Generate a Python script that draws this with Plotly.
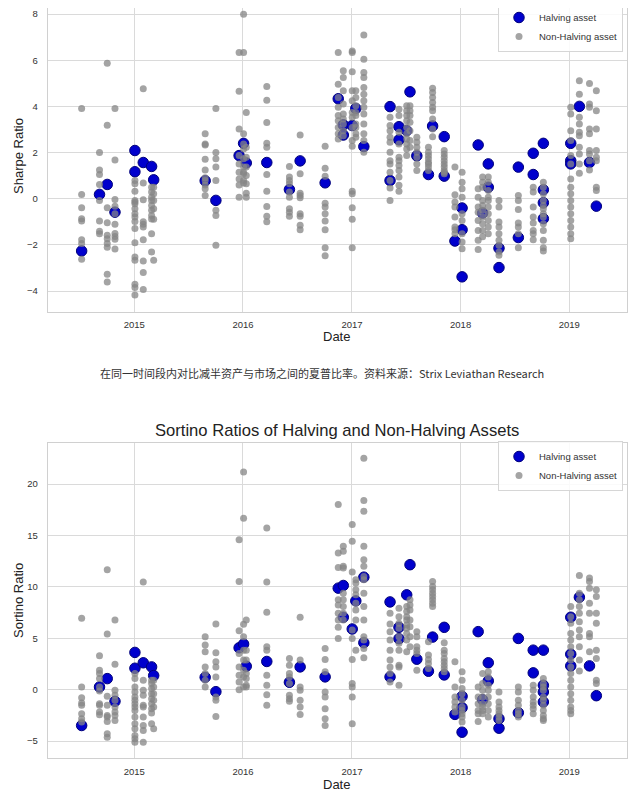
import plotly.graph_objects as go

# ---------------- data ----------------
col_dates = [
    "2014-07-08", "2014-09-06", "2014-10-02", "2014-10-28", "2015-01-03", "2015-01-31",
    "2015-02-28", "2015-03-07", "2015-08-27", "2015-10-02", "2015-12-19", "2016-01-03",
    "2016-01-12", "2016-03-21", "2016-06-05", "2016-07-11", "2016-10-03", "2016-11-16",
    "2016-12-03", "2017-01-02", "2017-01-14", "2017-02-10", "2017-05-09", "2017-06-08",
    "2017-07-04", "2017-07-15", "2017-08-07", "2017-09-15", "2017-09-29", "2017-11-07",
    "2017-12-13", "2018-01-06", "2018-03-01", "2018-03-16", "2018-04-04", "2018-05-10",
    "2018-07-14", "2018-09-02", "2018-10-06", "2019-01-06", "2019-02-04", "2019-03-10",
    "2019-04-02",
]

sharpe_halving = [
    [-2.26], [0.19], [0.62], [-0.58], [2.09, 1.17], [1.57], [1.40], [0.82], [0.78], [-0.07],
    [1.87], [2.40], [1.55], [1.57], [0.40], [1.64], [0.69], [4.33], [3.20, 2.76], [3.17],
    [3.91], [2.26], [3.99, 0.79], [3.12, 2.55], [2.95], [4.63], [1.86], [1.05], [3.15],
    [2.69, 0.98], [-1.83], [-0.40, -1.34, -3.38], [2.33], [-0.62], [1.51, 0.50],
    [-2.14, -2.98], [1.37, -1.68], [1.97, 1.05], [2.40, 0.39, -0.17, -0.86],
    [2.40, 1.65, 1.51], [4.00], [1.57], [-0.32],
]

sharpe_other = [
    [3.91, 0.19, -0.39, -0.86, -0.96, -1.77, -1.94, -2.62],
    [2.0, 1.25, 1.05, 0.62, -0.07, -0.96, -1.41, -1.51],
    [5.87, 3.18, -0.39, -1.04, -1.58, -1.73, -1.94, -2.1, -3.27, -3.6],
    [3.91, 1.68, -0.03, -0.32, -0.65, -1.1, -1.5, -1.63, -1.75, -2.17],
    [0.79, 0.65, 0.33, -0.07, -0.14, -0.22, -0.43, -0.65, -0.79, -0.98, -1.29, -1.9, -2.52, -2.66, -3.7, -3.84, -4.17],
    [4.76, 0.68, -0.04, -1.0, -1.1, -1.22, -1.77, -2.69, -3.19, -3.93],
    [0.5, 0.29, 0.07, -0.07, -0.29, -0.5, -0.72, -0.88, -1.51, -2.3],
    [0.5, 0.22, -0.07, -0.43, -0.89, -2.66],
    [2.81, 2.37, 2.33, 1.71, 1.25, 0.91, 0.79, 0.6, 0.43, 0.14],
    [3.91, 2.0, 1.73, 1.37, 0.79, -0.5, -0.72, -2.01],
    [6.33, 4.65, 3.02, 1.87, 1.51, 1.15, 0.86, 0.6, 0.07],
    [7.99, 6.33, 2.81, 2.37, 2.16, 1.73, 1.37, 1.15, 1.08, 0.79, 0.68],
    [3.74, 2.23, 1.8, 1.37, 1.01, 0.65, 0.24, 0.07],
    [4.86, 4.27, 3.3, 2.4, 2.23, 1.05, 0.32, -0.33, -0.76, -1.0],
    [1.4, 0.94, 0.79, 0.65, 0.29, 0.07, -0.43, -0.58, -0.76],
    [2.76, 1.08, 0.24, 0.14, 0.04, -0.65, -0.76, -1.15, -1.34],
    [2.27, 1.32, 0.98, -0.19, -0.36, -0.65, -0.96, -1.34, -2.12, -2.47],
    [6.33, 4.96, 4.39, 3.96, 3.6, 3.38, 3.09, 2.81, 2.59],
    [5.54, 5.25, 4.68, 4.1, 3.67, 3.45, 3.24, 2.95, 2.73],
    [6.4, 6.33, 5.5, 4.68, 4.24, 3.74, 3.53, 3.09, 2.52, 2.27, 0.33, 0.22, -0.39, -0.89, -2.12],
    [4.68, 4.39, 4.03, 3.74, 3.6, 3.24, 3.09, 2.81, 2.66],
    [7.09, 6.04, 5.47, 5.25, 4.82, 4.53, 4.24, 3.96, 3.67, 3.24, 2.81, 2.52, 2.01],
    [3.53, 3.17, 2.95, 2.66, 2.45, 2.01, 1.65, 1.51, 1.15, 0.79, 0.47, -0.07],
    [3.88, 3.6, 2.88, 2.37, 1.8, 1.65, 1.44, 1.22, 0.94, 0.58, 0.33],
    [4.03, 3.81, 3.6, 3.38, 3.09, 2.81, 2.59, 2.37, 2.16, 1.87],
    [4.03, 3.81, 3.6, 3.31, 2.95, 2.52, 2.23],
    [2.66, 2.45, 2.23, 2.01, 1.8, 1.51, 1.22],
    [2.23, 2.01, 1.87, 1.73, 1.58, 1.51, 1.37, 1.22],
    [4.79, 4.6, 4.39, 4.17, 3.96, 3.81, 3.45, 3.02, 2.69],
    [2.09, 1.94, 1.8, 1.65, 1.51, 1.37, 1.22, 1.15, 1.08],
    [1.37, 0.17, -0.14, -0.36, -0.79, -1.22, -1.34, -1.51],
    [1.15, 0.72, 0.43, 0.07, -0.65, -0.94, -1.51, -1.87, -2.16],
    [0.43, 0.07, -0.36, -0.58, -0.94, -1.37, -1.8, -2.2],
    [0.94, 0.72, 0.5, -0.07, -0.29, -0.5, -0.79, -1.08, -1.37, -1.65],
    [0.94, 0.72, 0.36, 0.07, -0.07, -0.36, -0.65, -0.94, -1.22, -1.51],
    [-0.07, -0.36, -1.01, -1.22, -1.51, -1.8, -2.01, -2.3, -2.45],
    [0.14, -0.07, -0.47, -1.05, -1.22, -1.51, -2.12],
    [0.5, 0.29, -0.36, -0.79, -1.05, -1.37, -1.51, -1.77],
    [0.72, 0.5, 0.22, -0.07, -0.29, -0.43, -0.65, -0.79, -1.08, -1.37, -1.8, -2.12, -2.26],
    [3.96, 3.67, 2.95, 2.52, 1.87, 1.51, 0.86, 0.5, 0.22, -0.07, -0.36, -0.65, -0.94, -1.22, -1.51, -1.73],
    [5.11, 4.53, 3.53, 3.24, 2.88, 2.73, 2.23, 1.94, 1.51, 1.11],
    [4.99, 4.1, 3.96, 3.02, 2.81, 2.09, 1.94, 1.65, 1.25],
    [4.68, 3.81, 3.02, 2.09, 1.8, 1.65, 0.5, 0.36],
]

sortino_halving = [
    [-3.49], [0.26], [1.07], [-1.14], [3.62, 2.08], [2.61], [2.21], [1.37], [1.2], [-0.2],
    [4.07], [4.43], [2.28], [2.74], [0.72], [2.21], [1.24], [9.87], [10.13, 7.04], [5.9],
    [8.63], [10.94, 4.56], [8.53, 1.24], [6.06, 4.95], [9.22], [12.15], [2.96], [1.79],
    [5.11], [6.06, 1.43], [-2.41], [-0.65, -1.76, -4.14], [5.64], [-0.98], [2.61, 0.85],
    [-2.83, -3.75], [4.98, -2.25], [3.84, 1.63], [3.84, 0.42, -0.23, -1.2],
    [7.04, 3.45, 2.31], [8.99], [2.31], [-0.59],
]

sortino_other = [
    [6.94, 0.26, -0.78, -1.3, -1.53, -2.35, -2.83, -3.16],
    [3.29, 1.89, 1.56, 1.07, 0.26, -0.13, -1.37, -1.53, -2.18, -2.44],
    [11.66, 5.41, -0.65, -1.53, -2.51, -2.67, -3.09, -4.3, -4.63],
    [6.78, 2.48, -0.07, -0.55, -1.04, -1.69, -2.18, -2.51, -3.0],
    [1.56, 1.07, 0.26, -0.23, -0.72, -1.04, -1.37, -1.69, -2.02, -2.67, -3.32, -3.81, -4.46, -4.79, -5.11],
    [10.46, 0.91, -0.07, -0.55, -1.53, -1.69, -2.67, -3.49, -3.97, -5.11],
    [0.91, 0.59, 0.1, -0.39, -0.88, -1.37, -1.86, -2.28, -3.32],
    [0.91, 0.26, -0.39, -1.04, -1.69, -3.81],
    [5.15, 4.33, 3.68, 2.21, 1.56, 0.91, 0.26],
    [6.38, 3.58, 2.7, 2.21, 1.24, -0.72, -1.04, -2.61],
    [14.59, 10.52, 5.73, 3.52, 2.21, 1.4, 0.75, 0.0],
    [21.17, 16.68, 6.35, 5.15, 3.84, 2.87, 1.89, 1.24, 0.26],
    [6.78, 3.84, 2.87, 1.56, 1.07, 0.42, 0.26],
    [15.73, 10.46, 7.52, 4.17, 3.84, 1.4, 0.42, -0.49, -1.53],
    [3.03, 2.38, 1.56, 1.24, 0.59, -0.55, -0.88, -1.14],
    [7.04, 2.87, 0.26, -0.07, -1.04, -1.69, -2.41],
    [4.0, 2.93, 1.73, -0.23, -0.72, -1.86, -2.83, -3.49],
    [18.01, 13.29, 11.89, 8.73, 8.24, 7.43, 6.78, 6.06, 4.98],
    [13.94, 13.45, 11.99, 11.82, 9.38, 8.73, 8.08, 7.43, 6.78],
    [16.06, 14.43, 11.43, 5.8, 4.98, 2.93, 0.59, 0.26, -0.72, -3.32],
    [10.68, 10.36, 9.71, 9.22, 8.4, 7.75, 6.78, 3.84],
    [22.51, 18.4, 17.36, 13.94, 12.64, 11.99, 11.01, 10.68, 9.38, 8.08, 6.78, 5.15, 4.82, 4.0, 3.09],
    [7.43, 6.38, 5.64, 4.82, 3.84, 2.87, 2.21, 1.56, 0.75],
    [7.92, 7.1, 6.45, 5.96, 5.15, 4.5, 3.84, 2.38, 2.21, 0.42],
    [8.08, 7.59, 7.1, 6.78, 6.29, 5.96, 5.47, 4.82, 3.68],
    [8.73, 8.24, 7.75, 6.78, 6.12, 5.15, 4.17],
    [5.64, 5.15, 4.17, 3.84, 3.52, 1.89],
    [4.66, 3.36, 2.93, 2.54, 2.05],
    [10.52, 10.03, 9.71, 9.38, 9.06, 8.73, 8.4, 8.08],
    [4.56, 3.84, 3.52, 3.03, 2.7, 2.38, 2.05, 1.73],
    [2.7, 0.26, -0.72, -1.2, -1.69, -2.18],
    [1.73, 0.91, 0.1, -0.39, -1.04, -1.69, -2.02, -2.35, -2.67, -3.16],
    [0.26, -0.72, -1.37, -2.02, -2.35, -3.09],
    [1.56, 0.59, -0.07, -0.72, -1.37, -1.69, -2.02, -2.35],
    [1.73, 1.24, 0.42, -0.07, -0.72, -1.37, -2.02, -2.67],
    [-0.23, -1.2, -1.69, -2.02, -2.35, -2.67, -3.0],
    [0.26, -0.23, -1.04, -1.53, -2.02, -2.35, -2.67],
    [0.42, -0.07, -0.72, -1.2, -1.53, -1.86, -2.35],
    [1.07, 0.59, 0.26, -0.07, -0.72, -1.04, -1.53, -2.02, -2.51, -2.83, -3.0],
    [8.08, 7.1, 6.45, 5.47, 4.82, 4.17, 3.52, 2.87, 2.21, 1.56, 0.91, 0.26, -0.39, -1.04, -1.69, -2.02, -2.35],
    [11.11, 9.38, 8.73, 8.08, 7.43, 6.61, 5.8, 5.15, 4.17, 2.87, 1.82],
    [10.85, 10.52, 9.87, 8.4, 7.43, 5.47, 5.15, 3.68],
    [9.71, 9.06, 7.43, 6.45, 3.84, 3.03, 0.91, 0.59],
]

year_ticks = ["2015-01-01", "2016-01-01", "2017-01-01", "2018-01-01", "2019-01-01"]
year_labels = ["2015", "2016", "2017", "2018", "2019"]

sharpe_ticks = [-4, -2, 0, 2, 4, 6, 8]
sortino_ticks = [-5, 0, 5, 10, 15, 20]

title_bottom = "Sortino Ratios of Halving and Non-Halving Assets"
caption = "在同一时间段内对比减半资产与市场之间的夏普比率。资料来源：Strix Leviathan Research"


def flatten(dates, groups):
    xs, ys = [], []
    for d, vals in zip(dates, groups):
        for v in vals:
            xs.append(d)
            ys.append(v)
    return xs, ys


# ---------------- layout geometry ----------------
# The page body has an 8px margin, so the figure paper starts 8px in.
OFF = 8
W, H = 640 - 2 * OFF, 802 - 2 * OFF


def px_x(x):
    return (x - OFF) / W


def px_y(y):
    return 1 - (y - OFF) / H


FONT = "Liberation Sans, Arial, sans-serif"
BLUE = "#0000cd"
BLUE_EDGE = "#00007a"
GREY = "#858585"
GRID = "#dadada"
SPINE = "#d0d0d0"

fig = go.Figure()

panels = [
    ("x", "y", "legend", sharpe_halving, sharpe_other),
    ("x2", "y2", "legend2", sortino_halving, sortino_other),
]
for xa, ya, lg, hv, ot in panels:
    hx, hy = flatten(col_dates, hv)
    ox, oy = flatten(col_dates, ot)
    fig.add_trace(go.Scatter(
        x=hx, y=hy, mode="markers", name="Halving asset", xaxis=xa, yaxis=ya, legend=lg,
        marker=dict(size=10.5, color=BLUE, line=dict(color=BLUE_EDGE, width=1)),
    ))
    fig.add_trace(go.Scatter(
        x=ox, y=oy, mode="markers", name="Non-Halving asset", xaxis=xa, yaxis=ya, legend=lg,
        marker=dict(size=7, color=GREY, opacity=0.75, line=dict(width=0)),
    ))

x_dom = [px_x(47.7), px_x(627)]
top_dom = [px_y(312), 1.0]          # reference top edge lies above the visible area
bot_dom = [px_y(758.3), px_y(443.3)]

common_x = dict(
    type="date", range=["2014-03-16", "2019-07-14"], domain=x_dom,
    tickvals=year_ticks, ticktext=year_labels, showgrid=True, gridcolor=GRID, gridwidth=1,
    zeroline=False, showline=True, linecolor=SPINE, linewidth=1,
    ticks="outside", ticklen=4, tickcolor="rgba(0,0,0,0)",
    tickfont=dict(family=FONT, size=9.5, color="#333333"),
)
common_y = dict(
    showgrid=True, gridcolor=GRID, gridwidth=1, zeroline=False, showline=True,
    linecolor=SPINE, linewidth=1, mirror=True, ticklabeloverflow="allow",
    ticks="outside", ticklen=7, tickcolor="rgba(0,0,0,0)",
    tickfont=dict(family=FONT, size=9.5, color="#333333"),
)

legend_common = dict(
    xanchor="right", yanchor="top", x=px_x(623),
    bgcolor="rgba(255,255,255,0.85)", bordercolor="#d6d6d6", borderwidth=1,
    font=dict(family=FONT, size=9.5, color="#333333"), tracegroupgap=0,
    itemwidth=30,
)

fig.update_layout(
    width=W, height=H,
    margin=dict(l=0, r=0, t=0, b=0, autoexpand=False),
    paper_bgcolor="white", plot_bgcolor="white",
    showlegend=True,
    xaxis=dict(common_x, anchor="y"),
    yaxis=dict(common_y, anchor="x", domain=top_dom, range=[-4.903, 8.26], tickvals=sharpe_ticks),
    xaxis2=dict(common_x, anchor="y2", mirror=True),
    yaxis2=dict(common_y, anchor="x2", domain=bot_dom, range=[-6.68, 23.96], tickvals=sortino_ticks),
    legend=dict(legend_common, y=px_y(2)),
    legend2=dict(legend_common, y=px_y(441)),
)

annotations = [
    dict(text="Sharpe Ratio", x=px_x(18), y=px_y(156), textangle=-90,
         font=dict(family=FONT, size=13, color="#222222")),
    dict(text="Date", x=px_x(336.7), y=px_y(337),
         font=dict(family=FONT, size=13, color="#222222")),
    dict(text=caption, x=px_x(322), y=px_y(373),
         font=dict(family="Noto Sans CJK SC, Noto Sans, sans-serif", size=11, color="#333333")),
    dict(text=title_bottom, x=px_x(336.5), y=px_y(431),
         font=dict(family=FONT, size=16.6, color="#222222")),
    dict(text="Sortino Ratio", x=px_x(18), y=px_y(601), textangle=-90,
         font=dict(family=FONT, size=13, color="#222222")),
    dict(text="Date", x=px_x(336.7), y=px_y(784),
         font=dict(family=FONT, size=13, color="#222222")),
]
for a in annotations:
    a.update(xref="paper", yref="paper", showarrow=False, xanchor="center", yanchor="middle")
fig.update_layout(annotations=annotations)

fig.write_html("out.html")
